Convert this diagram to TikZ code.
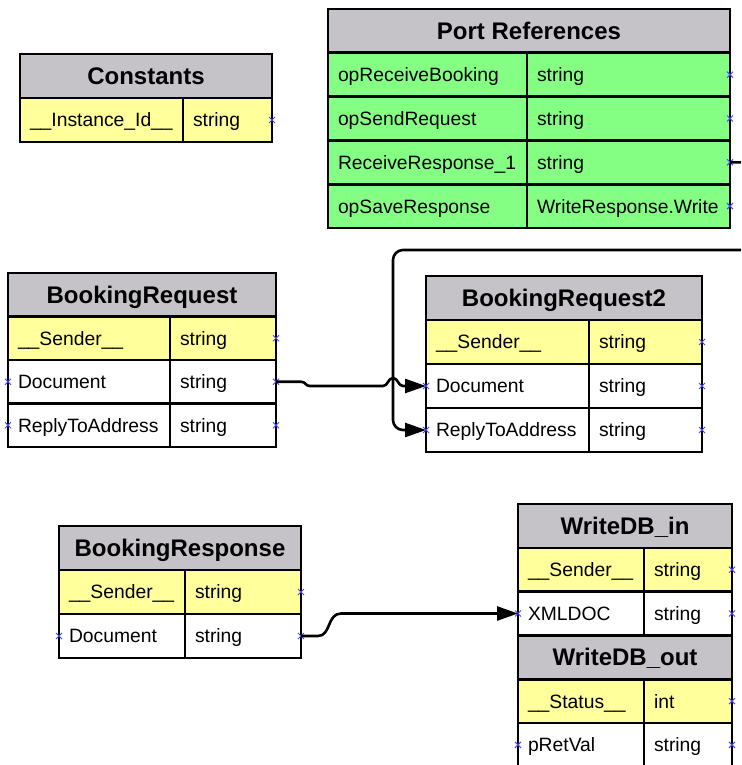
\documentclass[tikz,border=0pt]{standalone}
\usepackage{fontspec}
\setmainfont{Liberation Sans}
\usetikzlibrary{arrows.meta}

\definecolor{hdrgrey}{RGB}{197,195,199}
\definecolor{keyyellow}{RGB}{255,255,155}
\definecolor{refgreen}{RGB}{132,255,132}
\definecolor{portblue}{RGB}{70,70,255}

\def\rowh{44}

\tikzset{
  tbl/.style={draw=black, line width=2.6pt, inner sep=0pt, outer sep=0pt, anchor=north west},
  hdr/.style={tbl, fill=hdrgrey, font=\fontsize{24}{24}\selectfont\bfseries,
    minimum height=\rowh, text height=17.2, text depth=0},
  cellbox/.style={tbl, font=\fontsize{19.3}{20}\selectfont, inner xsep=10pt, align=left,
    minimum height=\rowh, text height=13.8, text depth=0},
  portmark/.style={draw=portblue, line width=1pt},
  wire/.style={draw=black, line width=2.6pt, line join=round},
  arrowed/.style={-{Triangle[length=21pt,width=14pt]}},
}

% small blue cross marking a connection port
\newcommand\pmark[1]{\draw[portmark] (#1) ++(-3,-3) -- ++(6,6) ++(0,-6) -- ++(-6,6);}
% table title bar: name, x, y, width, title
\newcommand\tblhead[5]{\node[hdr, minimum width=#4] (#1) at (#2,#3) {#5};}
% table field: name, x, y, key width, type width, fill, key, type
\newcommand\tblrow[8]{%
  \pgfmathsetmacro\kw{#4-20}\pgfmathsetmacro\vw{#5-20}%
  \node[cellbox, fill=#6, text width=\kw pt] (#1-k) at (#2,#3) {#7};
  \node[cellbox, fill=#6, text width=\vw pt] (#1-v) at (#1-k.north east) {#8};
  \pmark{#1-v.east}}
% field with ports on both sides
\newcommand\tblrowio[8]{\tblrow{#1}{#2}{#3}{#4}{#5}{#6}{#7}{#8}\pmark{#1-k.west}}

\begin{document}
\begin{tikzpicture}[x=1pt, y=-1pt]
\useasboundingbox (0,0) rectangle (741,765);
\fill[white] (0,0) rectangle (741,765);
\clip (0,0) rectangle (741,765);

% Constants
\def\rowh{44}
\tblhead{cst}{20}{54}{252}{Constants}
\tblrow{cstid}{20}{98}{163}{89}{keyyellow}{\_\_Instance\_Id\_\_}{string}

% Port References
\def\rowh{43.8}
\tblhead{prt}{328}{9}{402}{Port References}
\tblrow{prtrb}{328}{52.8}{199}{203}{refgreen}{opReceiveBooking}{string}
\tblrow{prtsr}{328}{96.6}{199}{203}{refgreen}{opSendRequest}{string}
\tblrow{prtrr}{328}{140.4}{199}{203}{refgreen}{ReceiveResponse\_1}{string}
\tblrow{prtsv}{328}{184.2}{199}{203}{refgreen}{opSaveResponse}{WriteResponse.Write}

% BookingRequest
\def\rowh{43.5}
\tblhead{brq}{8}{273}{268}{BookingRequest}
\tblrow{brqsnd}{8}{316.5}{162}{106}{keyyellow}{\_\_Sender\_\_}{string}
\tblrowio{brqdoc}{8}{360}{162}{106}{white}{Document}{string}
\tblrowio{brqrep}{8}{403.5}{162}{106}{white}{ReplyToAddress}{string}

% BookingRequest2
\def\rowh{44}
\tblhead{bq2}{426}{276}{276}{BookingRequest2}
\tblrow{bq2snd}{426}{320}{163}{113}{keyyellow}{\_\_Sender\_\_}{string}
\tblrowio{bq2doc}{426}{364}{163}{113}{white}{Document}{string}
\tblrowio{bq2rep}{426}{408}{163}{113}{white}{ReplyToAddress}{string}

% BookingResponse
\def\rowh{44}
\tblhead{brs}{59}{526}{242}{BookingResponse}
\tblrow{brssnd}{59}{570}{126}{116}{keyyellow}{\_\_Sender\_\_}{string}
\tblrowio{brsdoc}{59}{614}{126}{116}{white}{Document}{string}

% WriteDB in / out
\def\rowh{43.8}
\tblhead{wdi}{518}{504}{214}{WriteDB\_in}
\tblrow{wdisnd}{518}{547.8}{126}{88}{keyyellow}{\_\_Sender\_\_}{string}
\tblrowio{wdixml}{518}{591.6}{126}{88}{white}{XMLDOC}{string}
\tblhead{wdo}{518}{635.4}{214}{WriteDB\_out}
\tblrow{wdosts}{518}{679.2}{126}{88}{keyyellow}{\_\_Status\_\_}{int}
\tblrowio{wdoret}{518}{723}{126}{88}{white}{pRetVal}{string}

% ReceiveResponse_1 loops round to ReplyToAddress
\draw[wire, arrowed, rounded corners=10pt]
  (prtrr-v.east) -- (756,162.3) -- (756,250) -- (393,250) -- (393,0 |- bq2rep-k.west) -- (bq2rep-k.west);

% Document -> Document, hopping over the loop
\draw[wire, arrowed]
  (brqdoc-v.east) -- (301,381.75) .. controls (306,381.75) and (305,386) .. (310,386)
  -- (383,386) .. controls (388,386) and (388,378) .. (393,378)
  .. controls (398,378) and (398,386) .. (403,386) -- (bq2doc-k.west);

% Document -> XMLDOC
\draw[wire, arrowed]
  (brsdoc-v.east) -- (318,636) .. controls (331,636) and (327,613.5) .. (341,613.5)
  -- (wdixml-k.west);

\end{tikzpicture}
\end{document}
